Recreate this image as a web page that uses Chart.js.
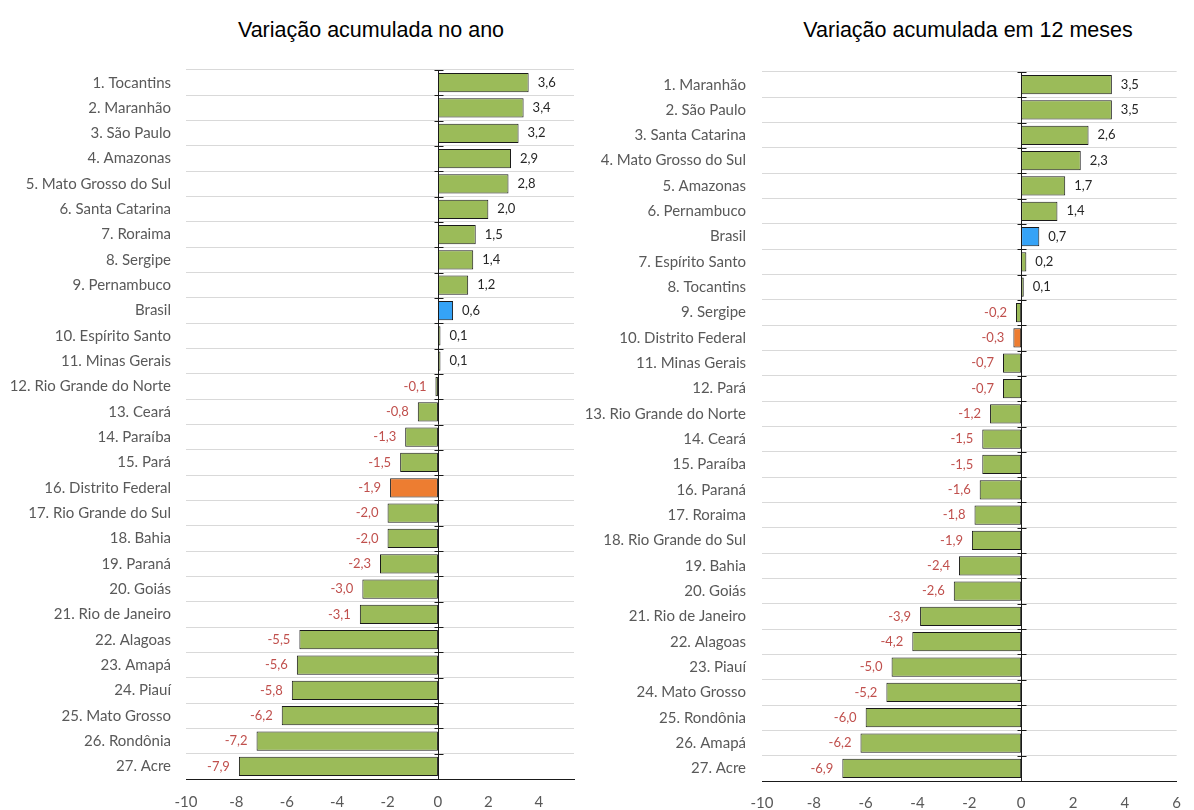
<!DOCTYPE html>
<html lang="pt-BR">
<head>
<meta charset="utf-8">
<title>Variação acumulada</title>
<script src="https://cdn.jsdelivr.net/npm/chart.js@4/dist/chart.umd.min.js"></script>
<style>
  body{margin:0;background:#fff;width:1194px;height:810px;overflow:hidden;position:relative;font-family:"Liberation Sans",Arial,sans-serif}
  .title{position:absolute;top:18px;font-size:21.5px;color:#000;white-space:nowrap;transform:translateX(-50%)}
  .box{position:absolute;top:0;height:810px}
</style>
</head>
<body>
<div class="title" style="left:371px">Variação acumulada no ano</div>
<div class="title" style="left:968px">Variação acumulada em 12 meses</div>
<div class="box" style="left:0;width:600px"><canvas id="chartYear"></canvas></div>
<div class="box" style="left:570px;width:624px"><canvas id="chart12m"></canvas></div>

<script>
// ===== Dados =====
const yearLabels = [
  "1. Tocantins","2. Maranhão","3. São Paulo","4. Amazonas","5. Mato Grosso do Sul",
  "6. Santa Catarina","7. Roraima","8. Sergipe","9. Pernambuco","Brasil",
  "10. Espírito Santo","11. Minas Gerais","12. Rio Grande do Norte","13. Ceará","14. Paraíba",
  "15. Pará","16. Distrito Federal","17. Rio Grande do Sul","18. Bahia","19. Paraná",
  "20. Goiás","21. Rio de Janeiro","22. Alagoas","23. Amapá","24. Piauí",
  "25. Mato Grosso","26. Rondônia","27. Acre"
];
const yearValues = [
  3.6, 3.4, 3.2, 2.9, 2.8,
  2.0, 1.5, 1.4, 1.2, 0.6,
  0.1, 0.1, -0.1, -0.8, -1.3,
  -1.5, -1.9, -2.0, -2.0, -2.3,
  -3.0, -3.1, -5.5, -5.6, -5.8,
  -6.2, -7.2, -7.9
];

const m12Labels = [
  "1. Maranhão","2. São Paulo","3. Santa Catarina","4. Mato Grosso do Sul","5. Amazonas",
  "6. Pernambuco","Brasil","7. Espírito Santo","8. Tocantins","9. Sergipe",
  "10. Distrito Federal","11. Minas Gerais","12. Pará","13. Rio Grande do Norte","14. Ceará",
  "15. Paraíba","16. Paraná","17. Roraima","18. Rio Grande do Sul","19. Bahia",
  "20. Goiás","21. Rio de Janeiro","22. Alagoas","23. Piauí","24. Mato Grosso",
  "25. Rondônia","26. Amapá","27. Acre"
];
const m12Values = [
  3.5, 3.5, 2.6, 2.3, 1.7,
  1.4, 0.7, 0.2, 0.1, -0.2,
  -0.3, -0.7, -0.7, -1.2, -1.5,
  -1.5, -1.6, -1.8, -1.9, -2.4,
  -2.6, -3.9, -4.2, -5.0, -5.2,
  -6.0, -6.2, -6.9
];

// ===== Estilo =====
const GREEN = "#9BBB59", BLUE = "#35A3F7", ORANGE = "#ED7D31";
const FONT = "Lato";
Chart.defaults.font.family = FONT;

function barColor(label){
  if(label === "Brasil") return BLUE;
  if(label.includes("Distrito Federal")) return ORANGE;
  return GREEN;
}
function fmt(v){ return v.toFixed(1).replace(".", ","); }

// rótulos de valor + linha do zero com marcas
const barExtras = {
  id: "barExtras",
  afterDatasetsDraw(chart){
    const { ctx, scales:{ x, y } } = chart;
    const x0 = Math.round(x.getPixelForValue(0)) + 0.5;
    ctx.save();
    ctx.strokeStyle = "#1a1a1a";
    ctx.lineWidth = 1;
    ctx.beginPath();
    ctx.moveTo(x0, y.top); ctx.lineTo(x0, y.bottom);
    const n = chart.data.labels.length;
    for(let i=0;i<n;i++){
      const yy = Math.round(y.getPixelForValue(i - 0.5)) + 0.5;
      ctx.moveTo(x0 - 4, yy); ctx.lineTo(x0 + 5, yy);
    }
    ctx.stroke();

    const data = chart.data.datasets[0].data;
    ctx.font = "13px " + FONT;
    ctx.textBaseline = "middle";
    chart.getDatasetMeta(0).data.forEach((bar, i)=>{
      const v = data[i];
      if(v >= 0){
        ctx.fillStyle = "#262626"; ctx.textAlign = "left";
        ctx.fillText(fmt(v), bar.x + 9, bar.y);
      } else {
        ctx.fillStyle = "#C0504D"; ctx.textAlign = "right";
        ctx.fillText(fmt(v), bar.x - 9, bar.y);
      }
    });
    ctx.restore();
  }
};

function makeChart(id, labels, values, cfg){
  return new Chart(document.getElementById(id), {
    type: "bar",
    data: {
      labels,
      datasets: [{
        data: values,
        backgroundColor: labels.map(barColor),
        borderColor: "#1a1a1a",
        borderWidth: 1,
        borderSkipped: false,
        barPercentage: 0.76,
        categoryPercentage: 1
      }]
    },
    options: {
      indexAxis: "y",
      responsive: true,
      maintainAspectRatio: false,
      animation: false,
      layout: { padding: { top: cfg.top, right: cfg.right, left: 0, bottom: 0 } },
      plugins: { legend: { display:false }, tooltip: { enabled:false } },
      scales: {
        x: {
          min: -10, max: cfg.max,
          ticks: { stepSize: 2, includeBounds: false, padding: cfg.xPad, color: "#595959", font: { size: 15 } },
          grid: { display: false, drawTicks: false },
          border: { display: true, color: "#1a1a1a" },
          afterFit: s => { s.height = cfg.xHeight; }
        },
        y: {
          ticks: { autoSkip: false, padding: cfg.yPad, color: "#595959", font: { size: 15 } },
          grid: { color: "#D9D9D9", drawTicks: false },
          border: { display: false },
          afterFit: s => { s.width = cfg.yWidth; }
        }
      }
    },
    plugins: [barExtras]
  });
}

makeChart("chartYear", yearLabels, yearValues, { top:70, right:26, max:5.4, xPad:14, xHeight:31, yPad:15, yWidth:186 });
makeChart("chart12m", m12Labels, m12Values, { top:72, right:7, max:6, xPad:13, xHeight:29, yPad:16, yWidth:192 });
</script>
</body>
</html>
